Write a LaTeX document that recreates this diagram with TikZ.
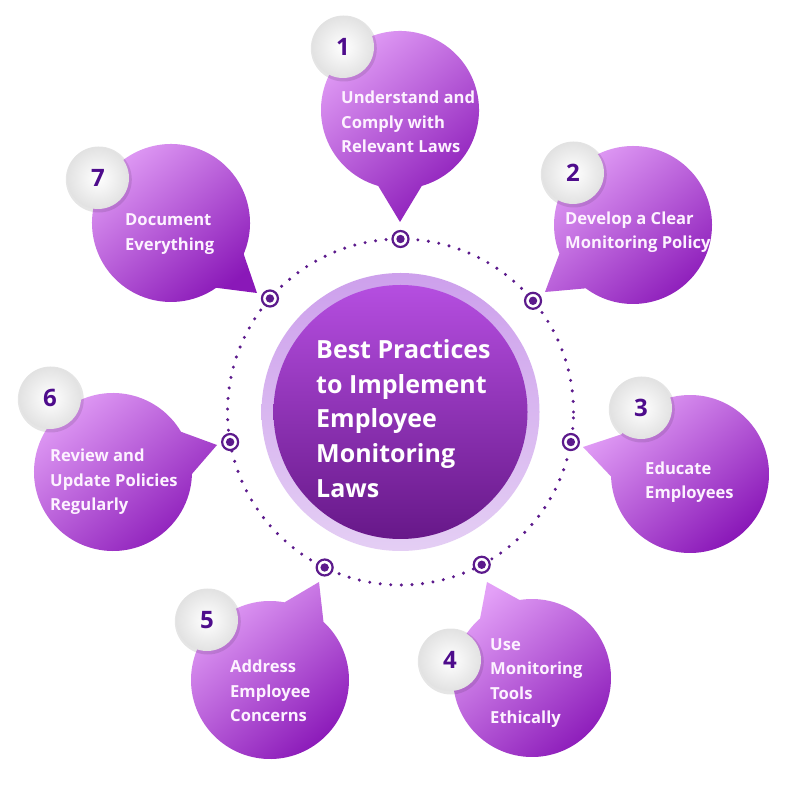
\documentclass[tikz,border=0pt]{standalone}
\usepackage{fontspec}
\setmainfont{Open Sans}
\usetikzlibrary{calc}
\definecolor{bubL}{HTML}{E3A0F7}
\definecolor{bubD}{HTML}{8A18B8}
\definecolor{ctrT}{HTML}{B54EE0}
\definecolor{ctrB}{HTML}{671889}
\definecolor{haloT}{HTML}{CDA0EC}
\definecolor{haloB}{HTML}{E4CEF4}
\definecolor{numc}{HTML}{4E0C8C}
\definecolor{dotc}{HTML}{5C1A8C}
\definecolor{badgeO}{HTML}{E2E2E2}
\definecolor{txt}{HTML}{FDF2FF}
\newcommand\mybub[3]{% center, angle, tip
  \shade[top color=bubL,bottom color=bubD,shading angle=40]
   ($#1+(#2+16:79pt)$) arc[start angle=#2+16, delta angle=328, radius=79pt] -- #3 -- cycle;
}
\newcommand\mybadge[3]{% name, pos, number
  \fill[black,opacity=0.10] #2 ++(0.8,-1.5) circle[radius=33pt];
  \shade[inner color=white, outer color=badgeO] #2 circle[radius=31pt];
  \node[numtext] (#1) at #2 {#3};
}
\begin{document}
\begin{tikzpicture}[x=1pt,y=1pt,
  btext/.style={font=\bfseries\fontsize{16.6}{24.5}\selectfont, text=txt, align=left, anchor=west, inner sep=0pt},
  ctext/.style={font=\bfseries\fontsize{25}{34.7}\selectfont, text=white, align=left, anchor=west, inner sep=0pt},
  numtext/.style={font=\bfseries\fontsize{24}{24}\selectfont, text=numc},
  marker/.style={circle, draw=dotc, line width=2.2pt, fill=white, minimum size=16pt, inner sep=0pt}]
\useasboundingbox (0,0) rectangle (800,790);
\fill[white] (0,0) rectangle (800,790);
\coordinate (O) at (400.5,378);
% dotted ring
\draw[dotc, line width=3.4pt, line cap=round, dash pattern=on 0pt off 10.6pt] (O) circle[radius=173pt];
% centre
\shade[top color=haloT,bottom color=haloB] (O) circle[radius=139pt];
\shade[top color=ctrT,bottom color=ctrB] (O) circle[radius=127pt];
\node[ctext] (title) at (316,371.5) {Best Practices\\to Implement\\Employee\\Monitoring\\Laws};
% bubbles
\mybub{(400,680)}{-90}{(400,568)}
\mybub{(633,565)}{217.3}{(545,498)}
\mybub{(690,316)}{165.8}{(583,343)}
\mybub{(532,112)}{115.1}{(487,208)}
\mybub{(270,110)}{63.4}{(319,208)}
\mybub{(113,318)}{14.6}{(217,345)}
\mybub{(171,567)}{-39.1}{(257,497)}
\node[btext] (t1) at (341,668) {Understand and\\Comply with\\Relevant Laws};
\node[btext] (t2) at (565,558) {Develop a Clear\\Monitoring Policy};
\node[btext] (t3) at (645,308) {Educate\\Employees};
\node[btext] (t4) at (490,107) {Use\\Monitoring\\Tools\\Ethically};
\node[btext] (t5) at (230,99) {Address\\Employee\\Concerns};
\node[btext] (t6) at (50,308) {Review and\\Update Policies\\Regularly};
\node[btext] (t7) at (125,556) {Document\\Everything};
% markers
\foreach \a [count=\i] in {90,40,-10,-62,-116,190,139} {
  \node[marker] (m\i) at ($(O)+(\a:173pt)$) {};
  \fill[dotc] (m\i) circle[radius=4.2pt];
}
% badges
\mybadge{n1}{(343,743)}{1}
\mybadge{n2}{(573,617)}{2}
\mybadge{n3}{(641,382)}{3}
\mybadge{n4}{(450,130)}{4}
\mybadge{n5}{(207,170)}{5}
\mybadge{n6}{(50,392)}{6}
\mybadge{n7}{(98,612)}{7}
\end{tikzpicture}
\end{document}
